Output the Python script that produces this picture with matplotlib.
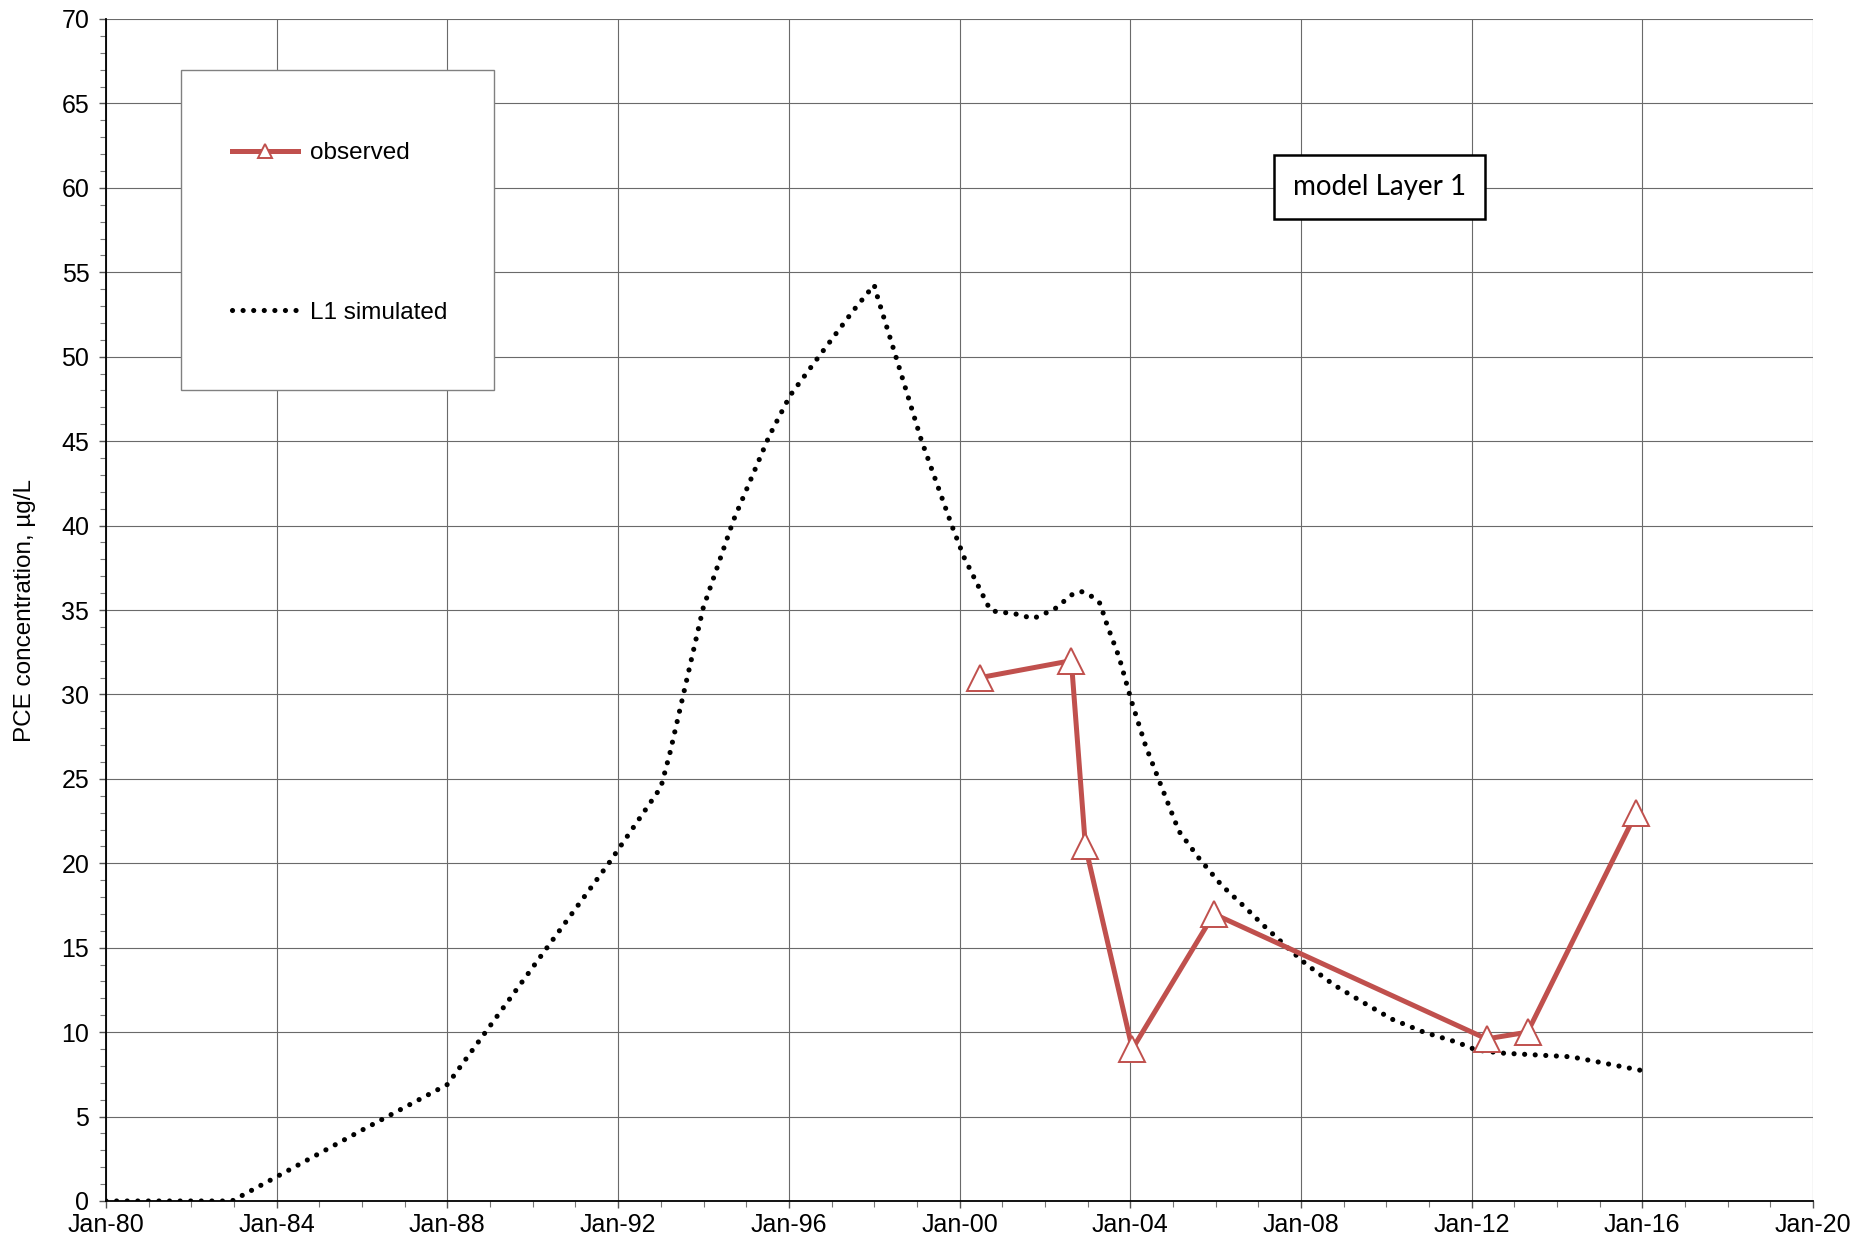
import matplotlib
matplotlib.use('Agg')
import matplotlib.pyplot as plt
import matplotlib.dates as mdates
from matplotlib.ticker import MultipleLocator
from matplotlib.patches import Rectangle
from datetime import datetime

plt.rcParams['font.family'] = ['Liberation Sans', 'DejaVu Sans']

# ---- data (decimal years) ----
sim_years = [1980.0, 1982.95, 1983.9, 1986.0, 1988.0, 1988.92, 1990.35, 1991.79,
             1993.0, 1993.21, 1993.51, 1993.99, 1994.7, 1995.54, 1996.03, 1996.67,
             1997.5, 1998.0, 1998.07, 1998.46, 1999.1, 1999.82, 2000.11, 2000.6,
             2000.72, 2000.95, 2001.2, 2001.47, 2001.73, 2002.22, 2002.63, 2002.85,
             2003.1, 2003.29, 2003.46, 2003.74, 2004.03, 2004.36, 2004.66, 2005.14,
             2005.61, 2006.14, 2006.73, 2007.09, 2007.69, 2008.11, 2008.77, 2009.43,
             2010.14, 2010.89, 2011.66, 2012.11, 2012.71, 2013.51, 2014.33, 2014.89,
             2015.94]
sim_values = [0.0, 0.0, 1.3, 4.2, 6.9, 10.1, 15.06, 20.03,
              24.5, 26.5, 29.8, 35.1, 40.3, 45.3, 47.7, 49.9,
              52.7, 54.25, 53.6, 50.4, 45.1, 40.0, 38.1, 35.6,
              35.0, 34.84, 34.84, 34.66, 34.5, 35.04, 35.9, 36.1,
              35.8, 35.4, 34.1, 32.2, 29.6, 26.96, 25.0, 21.9,
              20.3, 18.7, 17.3, 16.4, 15.0, 14.05, 12.8, 11.8,
              10.76, 9.99, 9.4, 8.94, 8.76, 8.65, 8.54, 8.27,
              7.75]

obs_years = [2000.49, 2002.62, 2002.95, 2004.05, 2005.96, 2012.35, 2013.31, 2015.86]
obs_values = [31.0, 32.0, 21.0, 9.0, 17.0, 9.6, 10.0, 23.0]

y_ticks = list(range(0, 71, 5))
labels = ['observed', 'L1 simulated']
box_text = 'model Layer 1'
y_label = 'PCE concentration, \u00b5g/L'


def to_date(y):
    yr = int(y)
    start = datetime(yr, 1, 1)
    end = datetime(yr + 1, 1, 1)
    return start + (end - start) * (y - yr)


W, H = 1854, 1243
fig = plt.figure(figsize=(W / 100, H / 100), dpi=100)
L, R, T, B = 106, 1813, 19, 1201
ax = fig.add_axes([L / W, (H - B) / H, (R - L) / W, (B - T) / H])

red = '#C0504D'
sim_line, = ax.plot([to_date(v) for v in sim_years], sim_values, color='black',
                    lw=3.7, linestyle=(0, (0.01, 2.05)), dash_capstyle='round',
                    label=labels[1], zorder=3)
obs_line, = ax.plot([to_date(v) for v in obs_years], obs_values, color=red, lw=3.6,
                    marker='^', ms=19, mfc='white', mec=red, mew=1.4,
                    label=labels[0], zorder=4)

ax.set_xlim(datetime(1980, 1, 1), datetime(2020, 1, 1))
ax.set_ylim(0, 70)
ax.set_yticks(y_ticks)
ax.yaxis.set_minor_locator(MultipleLocator(1))
ax.xaxis.set_major_locator(mdates.YearLocator(4))
ax.xaxis.set_minor_locator(mdates.YearLocator(1))
ax.xaxis.set_major_formatter(mdates.DateFormatter('%b-%y'))

ax.grid(True, which='major', color='#6a6a6a', lw=0.8, zorder=0)
ax.set_axisbelow(True)
for s in ['top', 'right']:
    ax.spines[s].set_visible(False)
for s in ['left', 'bottom']:
    ax.spines[s].set_linewidth(1.3)
    ax.spines[s].set_color('black')
ax.tick_params(which='major', direction='out', length=5, width=1.0, labelsize=18,
               color='#555555')
ax.tick_params(which='minor', direction='out', length=4.5, width=0.8, color='#777777')
ax.tick_params(axis='y', which='major', pad=7)
ax.tick_params(axis='x', which='major', pad=4)

ax.set_ylabel(y_label, fontsize=17.5)
ax.yaxis.set_label_coords(-(L - 36) / (R - L), 0.5)

# legend frame and legend
fig.patches.append(Rectangle((181 / W, 1 - 390 / H), (494 - 181) / W, (390 - 70) / H,
                             transform=fig.transFigure, facecolor='white',
                             edgecolor='#808080', lw=1.0, zorder=5))
leg = fig.legend(handles=[obs_line, sim_line], labels=labels, loc='upper left',
                 bbox_to_anchor=(220 / W, 1 - 130 / H), frameon=False,
                 fontsize=17.5, borderpad=0, handlelength=2.7, handletextpad=0.5,
                 labelspacing=5.65, markerscale=0.55, numpoints=1)
leg.set_zorder(6)

ax.text(1379.5 / W, 1 - 187 / H, box_text, transform=fig.transFigure,
        ha='center', va='center', fontsize=20, family=['Lato', 'DejaVu Sans'],
        bbox=dict(boxstyle='square,pad=0.68', facecolor='white', edgecolor='black',
                  lw=1.8), zorder=7)

fig.savefig('out.png', dpi=100)
